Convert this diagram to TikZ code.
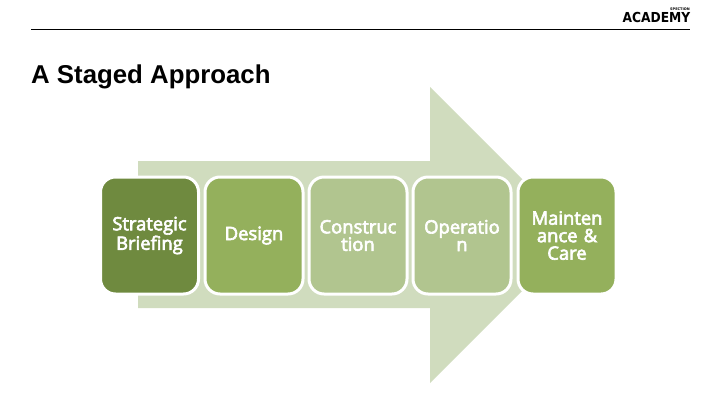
\documentclass[tikz,border=0pt]{standalone}
\usepackage{fontspec}
\setmainfont{Liberation Sans}
\newfontfamily\boxfont[FakeBold=3.4]{Open Sans}
\newfontfamily\logofont{DejaVu Sans}
\definecolor{arrowgreen}{HTML}{D0DCBE}
\definecolor{darkgreen}{HTML}{6F8A3F}
\definecolor{midgreen}{HTML}{94B05C}
\definecolor{lightgreen}{HTML}{B1C58F}
\tikzset{
  stagebox/.style={draw=white,line width=3pt,rounded corners=15pt,minimum width=98pt,minimum height=117pt,inner sep=0pt,text=white,align=center,font=\boxfont\fontsize{18.4}{17.5}\selectfont,text width=98pt},
}
\begin{document}
\begin{tikzpicture}[x=1pt,y=-1pt]
\useasboundingbox (0,0) rectangle (720,405);
\fill[white] (0,0) rectangle (720,405);
\coordinate (rs) at (31,29);
\coordinate (re) at (690,29);
\draw[black,line width=0.8pt] (rs) -- (re);
\node[anchor=east,inner sep=0pt,font=\logofont\fontsize{13.5}{14}\selectfont\bfseries] (logo) at (690.5,17.5) {\scalebox{0.91}[1.02]{ACADEMY}};
\node[anchor=east,inner sep=0pt,font=\logofont\fontsize{3.5}{4}\selectfont\bfseries] (logosmall) at (690,9.5) {SPECTION};
\node[anchor=west,inner sep=0pt,font=\fontsize{25.8}{28}\selectfont\bfseries] (title) at (31,76.5) {A Staged Approach};
\fill[arrowgreen] (138,161) -- (430,161) -- (430,87) -- (578,235) -- (430,383) -- (430,308) -- (138,308) -- cycle;
\node[stagebox,fill=darkgreen] (b1) at (149.5,235.5) {\raisebox{8pt}{\parbox{98pt}{\centering\vspace{0pt}Strategic\\Briefing}}};
\node[stagebox,fill=midgreen] (b2) at (254,235.5) {\raisebox{-0.5pt}{Design}};
\node[stagebox,fill=lightgreen] (b3) at (358,235.5) {Construc\\tion};
\node[stagebox,fill=lightgreen] (b4) at (462,235.5) {Operatio\\n};
\node[stagebox,fill=midgreen] (b5) at (567,235.5) {Mainten\\ance \&\\Care};
\end{tikzpicture}
\end{document}
